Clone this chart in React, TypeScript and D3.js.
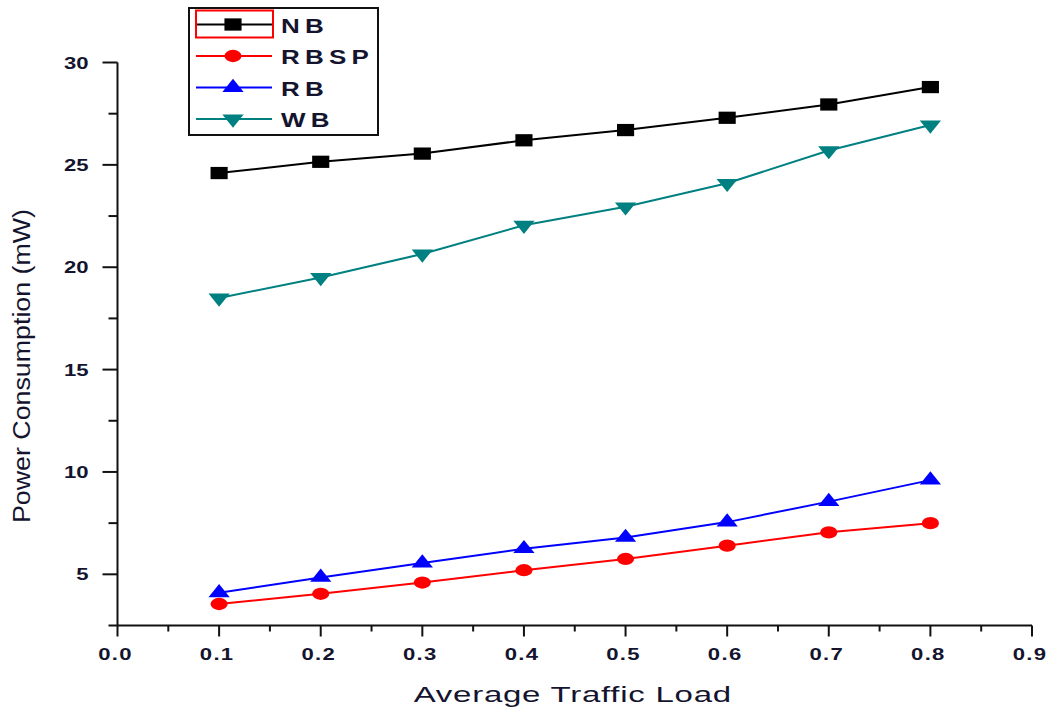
import React from "react";
import * as d3 from "d3";

const loads = [0.1, 0.2, 0.3, 0.4, 0.5, 0.6, 0.7, 0.8];
const nbValues = [24.6, 25.15, 25.55, 26.2, 26.7, 27.3, 27.95, 28.8];
const rbspValues = [3.55, 4.05, 4.6, 5.2, 5.75, 6.4, 7.05, 7.5];
const rbValues = [4.1, 4.85, 5.55, 6.25, 6.8, 7.55, 8.55, 9.6];
const wbValues = [18.5, 19.5, 20.65, 22.05, 22.95, 24.1, 25.7, 26.95];
const seriesNames = ["NB", "RBSP", "RB", "WB"];
const xTicks = [0, 0.1, 0.2, 0.3, 0.4, 0.5, 0.6, 0.7, 0.8, 0.9];
const xMinorTicks = [0.05, 0.15, 0.25, 0.35, 0.45, 0.55, 0.65, 0.75, 0.85];
const yTicks = [5, 10, 15, 20, 25, 30];
const yMinorTicks = [2.5, 7.5, 12.5, 17.5, 22.5, 27.5];
const xTitle = "Average Traffic Load";
const yTitle = "Power Consumption (mW)";

const W = 1051;
const H = 708;
const left = 117.5;
const right = 1032;
const top = 62.5;
const bottom = 625.5;
const SX = 1.4;
const FONT = "'Liberation Sans', Arial, sans-serif";

type Series = { name: string; values: number[]; color: string; symbol: string };

const series: Series[] = [
  { name: seriesNames[0], values: nbValues, color: "#000000", symbol: "square" },
  { name: seriesNames[1], values: rbspValues, color: "#ff0000", symbol: "circle" },
  { name: seriesNames[2], values: rbValues, color: "#0000ff", symbol: "up" },
  { name: seriesNames[3], values: wbValues, color: "#008080", symbol: "down" },
];

function markerPath(kind: string): string {
  if (kind === "square") return d3.symbol(d3.symbolSquare, 150)() as string;
  if (kind === "circle") return d3.symbol(d3.symbolCircle, 118)() as string;
  return d3.symbol(d3.symbolTriangle, 100)() as string;
}

function Marker({ x, y, kind, color }: { x: number; y: number; kind: string; color: string }) {
  const rot = kind === "down" ? " rotate(180)" : "";
  return (
    <path
      d={markerPath(kind)}
      transform={`translate(${x},${y}) scale(${SX},1)${rot}`}
      fill={color}
      stroke="none"
    />
  );
}

export default function App() {
  const x = d3.scaleLinear().domain([0, 0.9]).range([left, right]);
  const y = d3.scaleLinear().domain([2.5, 30]).range([bottom, top]);
  const line = d3
    .line<number>()
    .x((_, i) => x(loads[i]))
    .y((d) => y(d));

  const legendX = 189;
  const legendY = 8;
  const legendW = 189;
  const legendH = 127;
  const rowY = (i: number) => 24.5 + i * 31.5;
  const textColor = "#14142e";

  return (
    <svg
      width={W}
      height={H}
      style={{ position: "absolute", left: 0, top: 0, background: "#fff" }}
    >
      <rect x={0} y={0} width={W} height={H} fill="#fff" />
      {/* axes */}
      <line x1={left} y1={top} x2={left} y2={bottom} stroke="#111" strokeWidth={2} />
      <line x1={left} y1={bottom} x2={right} y2={bottom} stroke="#111" strokeWidth={2} />
      {yTicks.map((t) => (
        <line key={"yt" + t} x1={left - 15} x2={left} y1={y(t)} y2={y(t)} stroke="#111" strokeWidth={2} />
      ))}
      {yMinorTicks.map((t) => (
        <line key={"ym" + t} x1={left - 9} x2={left} y1={y(t)} y2={y(t)} stroke="#111" strokeWidth={2} />
      ))}
      {xTicks.map((t) => (
        <line key={"xt" + t} x1={x(t)} x2={x(t)} y1={bottom} y2={bottom + 11} stroke="#111" strokeWidth={2} />
      ))}
      {xMinorTicks.map((t) => (
        <line key={"xm" + t} x1={x(t)} x2={x(t)} y1={bottom} y2={bottom + 6} stroke="#111" strokeWidth={2} />
      ))}
      {yTicks.map((t) => (
        <text
          key={"yl" + t}
          transform={`translate(${left - 29},${y(t) + 6}) scale(1.3,1)`}
          textAnchor="end"
          fontFamily={FONT}
          fontSize={17}
          fontWeight="bold"
          fill={textColor}
        >
          {String(t)}
        </text>
      ))}
      {xTicks.map((t) => (
        <text
          key={"xl" + t}
          transform={`translate(${x(t) - 2},${bottom + 34}) scale(1.3,1)`}
          textAnchor="middle"
          fontFamily={FONT}
          fontSize={17}
          fontWeight="bold"
          letterSpacing={1}
          fill={textColor}
        >
          {t.toFixed(1)}
        </text>
      ))}
      {/* titles */}
      <text
        transform={`translate(${(left + right) / 2 - 2},${702}) scale(1.5,1)`}
        textAnchor="middle"
        fontFamily={FONT}
        fontSize={22}
        letterSpacing={0.5}
        fill={textColor}
      >
        {xTitle}
      </text>
      <text
        transform={`translate(${30},${366}) rotate(-90)`}
        textAnchor="middle"
        fontFamily={FONT}
        fontSize={23}
        fill={textColor}
        textLength={314}
        lengthAdjust="spacingAndGlyphs"
      >
        {yTitle}
      </text>
      {/* series */}
      {series.map((s) => (
        <g key={s.name}>
          <path d={line(s.values) as string} fill="none" stroke={s.color} strokeWidth={2} />
          {s.values.map((v, i) => (
            <Marker key={i} x={x(loads[i])} y={y(v)} kind={s.symbol} color={s.color} />
          ))}
        </g>
      ))}
      {/* legend */}
      <rect x={legendX} y={legendY} width={legendW} height={legendH} fill="#fff" stroke="#111" strokeWidth={2} />
      {series.map((s, i) => (
        <g key={"lg" + s.name}>
          <line x1={196} x2={272} y1={rowY(i)} y2={rowY(i)} stroke={s.color} strokeWidth={2} />
          <Marker x={233} y={rowY(i)} kind={s.symbol} color={s.color} />
          <text
            transform={`translate(${281},${rowY(i) + 8}) scale(1.3,1)`}
            fontFamily={FONT}
            fontSize={20}
            fontWeight="bold"
            letterSpacing={4}
            fill={textColor}
          >
            {s.name}
          </text>
        </g>
      ))}
      <rect x={196} y={10.5} width={77} height={27} fill="none" stroke="#ff0000" strokeWidth={2} />
    </svg>
  );
}
